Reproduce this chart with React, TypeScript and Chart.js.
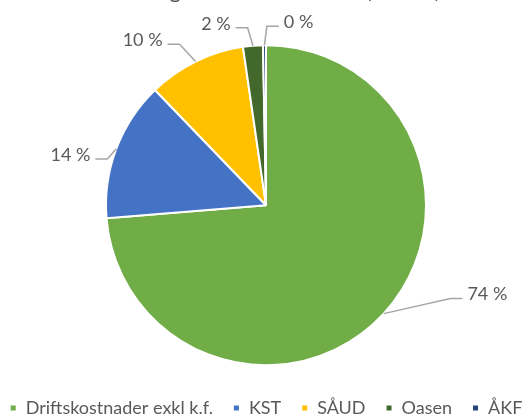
import React, { useEffect, useRef } from "react";
import { Chart, registerables } from "chart.js";

Chart.register(...registerables);

const TITLE = "Fordeling av driftskostnader (mill. kr)";
const categories = ["Driftskostnader exkl k.f.", "KST", "SÅUD", "Oasen", "ÅKF"];
const shares = [73.7, 14.1, 9.9, 2.0, 0.3];
const sliceColors = ["#70AD47", "#4472C4", "#FFC000", "#43682B", "#264478"];
const labelTexts = shares.map((v) => `${Math.round(v)} %`);

// leader-line placement tweaks (style), one per slice
const labelPlacement = [
  { dx: 55, dy: -26, side: 1 },
  { dx: 6, dy: 16, side: -1 },
  { dx: -9, dy: -3, side: -1 },
  { dx: -4, dy: -2, side: -1 },
  { dx: 2.5, dy: -3, side: 1 },
];

const FONT = "Lato, 'Open Sans', sans-serif";
const TEXT_COLOR = "#595959";

const pieLabels = {
  id: "pieLabels",
  afterDatasetsDraw(chart: any) {
    const meta = chart.getDatasetMeta(0);
    const ctx = chart.ctx;
    ctx.save();
    meta.data.forEach((arc: any, i: number) => {
      const { x, y, startAngle, endAngle, outerRadius } = arc.getProps(
        ["x", "y", "startAngle", "endAngle", "outerRadius"],
        true
      );
      const mid = (startAngle + endAngle) / 2;
      const c = Math.cos(mid);
      const s = Math.sin(mid);
      const pl = labelPlacement[i];
      const ex = x + outerRadius * c;
      const ey = y + outerRadius * s;
      const px = x + (outerRadius + 16) * c + pl.dx;
      const py = y + (outerRadius + 16) * s + pl.dy;
      const hx = px + pl.side * 12;
      ctx.strokeStyle = "#A6A6A6";
      ctx.lineWidth = 1.5;
      ctx.beginPath();
      ctx.moveTo(ex, ey);
      ctx.lineTo(px, py);
      ctx.lineTo(hx, py);
      ctx.stroke();
      ctx.fillStyle = TEXT_COLOR;
      ctx.font = `18px ${FONT}`;
      ctx.textAlign = pl.side > 0 ? "left" : "right";
      ctx.textBaseline = "middle";
      ctx.fillText(labelTexts[i], hx + pl.side * 5, py - 4);
    });
    ctx.restore();
  },
};

export default function App() {
  const ref = useRef<HTMLCanvasElement | null>(null);
  useEffect(() => {
    if (!ref.current) return;
    const chart = new Chart(ref.current, {
      type: "pie",
      data: {
        labels: categories,
        datasets: [
          {
            data: shares,
            backgroundColor: sliceColors,
            borderColor: "#FFFFFF",
            borderWidth: 2,
            hoverOffset: 0,
          },
        ],
      },
      options: {
        responsive: false,
        maintainAspectRatio: false,
        animation: false,
        radius: 160,
        layout: { padding: 0 },
        plugins: {
          title: {
            display: true,
            text: TITLE,
            color: TEXT_COLOR,
            font: { family: FONT, size: 22, weight: "normal" },
            padding: { top: 18, bottom: 27 },
          },
          legend: {
            position: "bottom",
            labels: {
              boxWidth: 7,
              boxHeight: 7,
              padding: 20,
              color: TEXT_COLOR,
              font: { family: FONT, size: 18 },
            },
          },
          tooltip: { enabled: false },
        },
      } as any,
      plugins: [pieLabels],
    });
    return () => chart.destroy();
  }, []);
  return (
    <div
      style={{
        position: "fixed",
        left: 0,
        top: 0,
        width: 531,
        height: 416,
        overflow: "hidden",
        background: "#fff",
      }}
    >
      <canvas
        ref={ref}
        width={600}
        height={467}
        style={{ position: "absolute", left: -34, top: -40, width: 600, height: 467 }}
      />
    </div>
  );
}
